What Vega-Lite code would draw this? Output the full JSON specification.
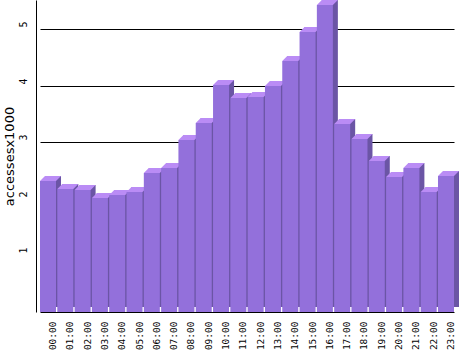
{
  "$schema": "https://vega.github.io/schema/vega-lite/v6.json",
  "width": 432,
  "height": 312,
  "autosize": "none",
  "padding": {"left": 36, "top": 0, "right": 0, "bottom": 39},
  "background": "white",
  "view": {"stroke": null},
  "data": {
    "values": [
      {"hour": "00:00", "v": 2.32},
      {"hour": "01:00", "v": 2.17},
      {"hour": "02:00", "v": 2.16},
      {"hour": "03:00", "v": 2.02},
      {"hour": "04:00", "v": 2.07},
      {"hour": "05:00", "v": 2.12},
      {"hour": "06:00", "v": 2.46},
      {"hour": "07:00", "v": 2.55},
      {"hour": "08:00", "v": 3.04},
      {"hour": "09:00", "v": 3.34},
      {"hour": "10:00", "v": 4.01},
      {"hour": "11:00", "v": 3.78},
      {"hour": "12:00", "v": 3.80},
      {"hour": "13:00", "v": 4.00},
      {"hour": "14:00", "v": 4.44},
      {"hour": "15:00", "v": 4.95},
      {"hour": "16:00", "v": 5.43},
      {"hour": "17:00", "v": 3.33},
      {"hour": "18:00", "v": 3.06},
      {"hour": "19:00", "v": 2.68},
      {"hour": "20:00", "v": 2.39},
      {"hour": "21:00", "v": 2.55},
      {"hour": "22:00", "v": 2.13},
      {"hour": "23:00", "v": 2.40}
    ]
  },
  "encoding": {
    "x": {
      "field": "hour",
      "type": "ordinal",
      "sort": null,
      "scale": {"range": [4, 418], "paddingInner": 0.075, "paddingOuter": 0},
      "axis": {
        "title": null,
        "domain": false,
        "ticks": false,
        "grid": false,
        "labelAngle": -90,
        "labelAlign": "right",
        "labelBaseline": "middle",
        "labelPadding": 9,
        "labelOffset": 5,
        "labelFont": "DejaVu Sans Mono",
        "labelFontSize": 9.5,
        "labelColor": "black"
      }
    },
    "y": {
      "field": "v",
      "type": "quantitative",
      "scale": {"domain": [0, 5.52], "nice": false, "zero": true, "round": true},
      "axis": {
        "values": [0, 1, 2, 3, 4, 5],
        "labelExpr": "datum.value == 0 ? '' : datum.label",
        "grid": true,
        "gridColor": "black",
        "gridOpacity": 1,
        "gridWidth": 1,
        "ticks": false,
        "domain": true,
        "domainColor": "black",
        "labelAngle": -90,
        "labelAlign": "center",
        "labelBaseline": "alphabetic",
        "labelPadding": 10,
        "labelOffset": -5,
        "labelFont": "DejaVu Sans Mono",
        "labelFontSize": 10,
        "labelColor": "black",
        "title": "accessesx1000",
        "titleFont": "DejaVu Sans",
        "titleFontSize": 13,
        "titleFontWeight": "normal",
        "titleColor": "black",
        "titleAngle": -90,
        "titleAlign": "center",
        "titleBaseline": "alphabetic",
        "titleX": -23,
        "titleY": 156
      }
    }
  },
  "layer": [
    {
      "mark": {"type": "bar", "color": "#6B55A5", "xOffset": 5, "yOffset": -5, "y2Offset": 3, "opacity": 1}
    },
    {
      "mark": {"type": "point", "shape": "M-0.8,0L0.8,0L1.3,-0.5L-0.3,-0.5Z", "size": 400, "filled": true, "color": "#BA8CF5", "opacity": 1, "strokeWidth": 0}
    },
    {
      "mark": {"type": "bar", "color": "#9370DB", "y2Offset": 3, "opacity": 1}
    }
  ]
}
